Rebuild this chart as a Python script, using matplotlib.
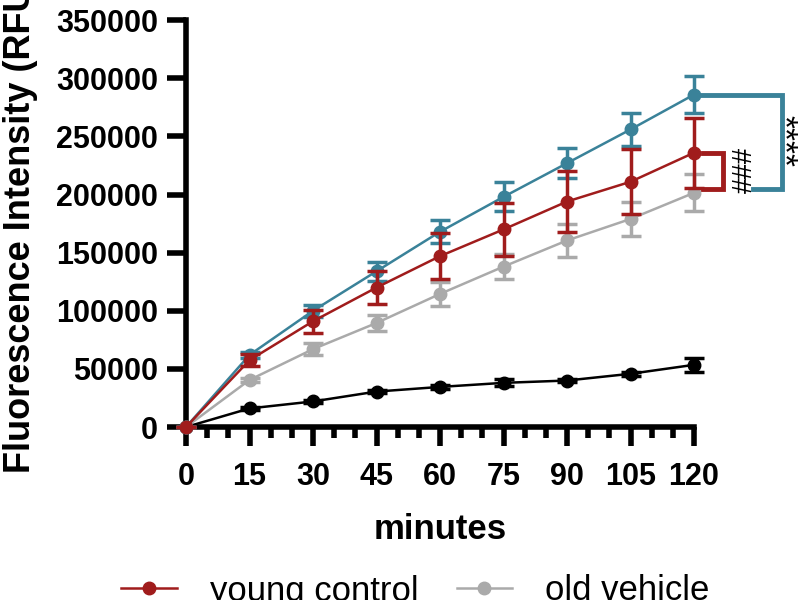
import matplotlib
matplotlib.use("Agg")
import matplotlib.pyplot as plt
from matplotlib.lines import Line2D

plt.rcParams['font.family'] = ['Liberation Sans', 'DejaVu Sans']

minutes = [0, 15, 30, 45, 60, 75, 90, 105, 120]

teal_mean = [0, 62000, 100000, 134000, 168000, 198000, 227000, 256000, 286000]
teal_err = [0, 2500, 5000, 8000, 10000, 12500, 13000, 14500, 16000]

young_mean = [0, 57500, 91000, 120000, 147000, 170000, 194000, 211000, 236000]
young_err = [0, 5000, 10000, 14000, 20000, 23000, 26000, 28000, 30000]

old_mean = [0, 40500, 67000, 89500, 114500, 138000, 160500, 179000, 201500]
old_err = [0, 2000, 5000, 7000, 10000, 11000, 14000, 15000, 16000]

black_mean = [0, 16000, 22000, 30500, 34500, 38000, 40000, 45800, 53500]
black_err = [0, 1000, 1000, 1500, 1500, 3000, 1500, 1500, 6000]

TEAL = '#3a8299'
RED = '#a01c1c'
GREY = '#aaaaaa'
BLACK = '#000000'

fig = plt.figure(figsize=(8, 6), dpi=100)
ax = fig.add_axes([0.2325, 0.2883, 0.635, 0.678])

def series(mean, err, color, z):
    ax.errorbar(minutes, mean, yerr=err, color=color, lw=1.8, marker='o', ms=9,
                capsize=7, capthick=2.5, elinewidth=2.5, zorder=z, clip_on=False)

series(black_mean, black_err, BLACK, 3)
series(old_mean, old_err, GREY, 4)
series(teal_mean, teal_err, TEAL, 5)
series(young_mean, young_err, RED, 6)

ax.set_xlim(0, 120)
ax.set_ylim(0, 350000)
ax.set_xticks(minutes)
ax.set_xticks([m for m in range(0, 121, 5) if m % 15], minor=True)
ax.set_yticks(range(0, 350001, 50000))
ax.set_yticklabels([str(v) for v in range(0, 350001, 50000)])

for s in ['top', 'right']:
    ax.spines[s].set_visible(False)
for s in ['left', 'bottom']:
    ax.spines[s].set_linewidth(4)
ax.tick_params(axis='both', which='major', length=14, width=4, labelsize=22, direction='out')
ax.tick_params(axis='x', which='minor', length=8, width=4, direction='out')
ax.tick_params(axis='x', which='major', pad=11)
ax.tick_params(axis='y', which='major', pad=6)
for lab in ax.get_xticklabels() + ax.get_yticklabels():
    lab.set_fontweight('bold')

ax.set_xlabel('minutes', fontsize=25, fontweight='bold', labelpad=15)
ax.set_ylabel('Fluorescence Intensity (RFU)', fontsize=26, fontweight='bold', labelpad=13)

# significance brackets
bottom = old_mean[-1] + 3000
ax.plot([121.9, 140.8, 140.8, 133.9], [teal_mean[-1], teal_mean[-1], bottom, bottom],
        color=TEAL, lw=3.5, clip_on=False, solid_joinstyle='miter')
ax.plot([122.1, 126.9, 126.9, 122.1], [young_mean[-1], young_mean[-1], bottom, bottom],
        color=RED, lw=3.5, clip_on=False, solid_joinstyle='miter')
ax.text(132.0, (young_mean[-1] + bottom) / 2 + 1000, '###', rotation=90, fontsize=20,
        ha='center', va='center', clip_on=False)
ax.text(144.6, (teal_mean[-1] + bottom) / 2 + 1000, '****', rotation=-90, fontsize=24,
        ha='right', va='center', clip_on=False)

handles = [Line2D([], [], color=RED, marker='o', ms=9, lw=1.8),
           Line2D([], [], color=GREY, marker='o', ms=9, lw=1.8)]
fig.legend(handles, ['young control', 'old vehicle'], loc='center left',
           bbox_to_anchor=(0.1125, 0.015), ncol=2, frameon=False, fontsize=25,
           handlelength=1.6, handletextpad=0.95, columnspacing=1.1)

fig.savefig('out.png', dpi=100)
